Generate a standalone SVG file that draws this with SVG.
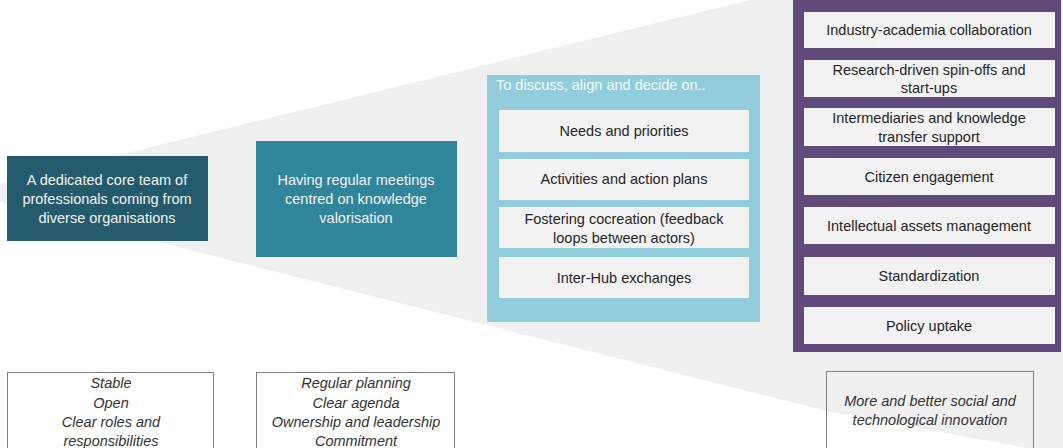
<svg xmlns="http://www.w3.org/2000/svg" width="1063" height="448" viewBox="0 0 1063 448">
<style>
text{font-family:"Liberation Sans",Arial,sans-serif;font-size:14.5px;text-anchor:middle;dominant-baseline:central}
.w{fill:#F2F2F2}
.d{fill:#262626}
.it{font-style:italic;fill:#333333}
.inner{fill:#F2F2F2}
.outline{fill:none;stroke:#7F7F7F;stroke-width:1}
</style>
<rect width="1063" height="448" fill="#FFFFFF"/>
<polygon id="funnel" points="0,184 750,0 1063,0 1063,455 1000,443 826,411 0,202" fill="#F0F0F0"/>
<g id="connectors"></g>
<g id="core-team">
<rect x="7" y="156" width="201" height="85" fill="#245B6C"/>
<text class="w" x="107" y="180">A dedicated core team of</text>
<text class="w" x="107" y="199">professionals coming from</text>
<text class="w" x="107" y="218">diverse organisations</text>
</g>
<g id="meetings">
<rect x="256" y="141" width="201" height="116" fill="#31859B"/>
<text class="w" x="356" y="180">Having regular meetings</text>
<text class="w" x="356" y="199">centred on knowledge</text>
<text class="w" x="356" y="218">valorisation</text>
</g>
<g id="discuss">
<rect x="487" y="75" width="273" height="247" fill="#92CDDC"/>
<text x="496" y="85" style="text-anchor:start" fill="#F4FAFC">To discuss, align and decide on..</text>
<rect class="inner" x="499" y="110" width="250" height="42"/>
<text class="d" x="624" y="131">Needs and priorities</text>
<rect class="inner" x="499" y="159" width="250" height="41"/>
<text class="d" x="624" y="179">Activities and action plans</text>
<rect class="inner" x="499" y="207" width="250" height="41"/>
<text class="d" x="624" y="219">Fostering cocreation (feedback</text>
<text class="d" x="624" y="238">loops between actors)</text>
<rect class="inner" x="499" y="257" width="250" height="41"/>
<text class="d" x="624" y="278">Inter-Hub exchanges</text>
</g>
<g id="outcomes">
<rect x="793" y="-5" width="268" height="357" fill="#604A7B"/>
<rect class="inner" x="804" y="12" width="251" height="36"/>
<text class="d" x="929" y="30">Industry-academia collaboration</text>
<rect class="inner" x="804" y="60" width="251" height="37"/>
<text class="d" x="929" y="70">Research-driven spin-offs and</text>
<text class="d" x="929" y="88">start-ups</text>
<rect class="inner" x="804" y="108" width="251" height="38"/>
<text class="d" x="929" y="118">Intermediaries and knowledge</text>
<text class="d" x="929" y="137">transfer support</text>
<rect class="inner" x="804" y="158" width="251" height="37"/>
<text class="d" x="929" y="177">Citizen engagement</text>
<rect class="inner" x="804" y="207" width="251" height="37"/>
<text class="d" x="929" y="226">Intellectual assets management</text>
<rect class="inner" x="804" y="257" width="251" height="38"/>
<text class="d" x="929" y="276">Standardization</text>
<rect class="inner" x="804" y="307" width="251" height="37"/>
<text class="d" x="929" y="326">Policy uptake</text>
</g>
<g id="team-traits">
<rect class="outline" x="7.5" y="372.5" width="206" height="90"/>
<text class="it" x="111" y="383">Stable</text>
<text class="it" x="111" y="403">Open</text>
<text class="it" x="111" y="422">Clear roles and</text>
<text class="it" x="111" y="441">responsibilities</text>
</g>
<g id="meeting-traits">
<rect class="outline" x="256.5" y="372.5" width="198" height="90"/>
<text class="it" x="356" y="383">Regular planning</text>
<text class="it" x="356" y="403">Clear agenda</text>
<text class="it" x="356" y="422">Ownership and leadership</text>
<text class="it" x="356" y="441">Commitment</text>
</g>
<g id="result">
<rect class="outline" x="826.5" y="371.5" width="207" height="90"/>
<text class="it" x="930" y="401">More and better social and</text>
<text class="it" x="930" y="420">technological innovation</text>
</g>
</svg>
